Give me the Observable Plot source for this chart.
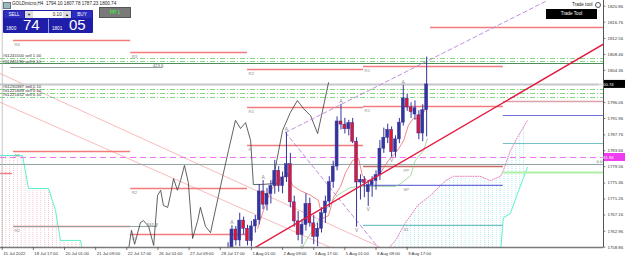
<!DOCTYPE html>
<html><head><meta charset="utf-8">
<script src="https://cdn.jsdelivr.net/npm/d3@7"></script>
<script src="https://cdn.jsdelivr.net/npm/@observablehq/plot@0.6"></script>
<style>
body{margin:0;background:#fff;}
#wrap{position:relative;width:625px;height:259px;overflow:hidden;font-family:"Liberation Sans",Arial,sans-serif;}
#wrap svg{position:absolute;left:0;top:0;}
.ui{position:absolute;white-space:nowrap;}
</style></head><body><div id="wrap"></div>
<script>
// ---------- DATA ----------
const candleI = [58,59,60,61,62,63,64,65,66,67,68,69,70,71,72,73,74,75,76,77,78,79,80,81,82,83,84,85,86,87,88,89,90,91,92,93,94,95,96,97,98,99,100,101,102,103,104,105,106,107,108,109];
const candleOpen = [1754.0,1758.5,1763.4,1760.6,1765.7,1763.6,1760.4,1764.2,1765.8,1773.2,1769.8,1772.6,1774.6,1778.5,1774.6,1776.8,1780.2,1770.4,1765.5,1762.0,1764.6,1770.0,1765.0,1761.5,1763.6,1767.6,1770.6,1775.6,1779.6,1791.2,1790.4,1789.2,1790.8,1786.0,1775.5,1776.2,1773.0,1774.8,1775.9,1777.4,1784.2,1787.0,1789.0,1783.3,1786.6,1790.9,1797.1,1794.8,1793.0,1792.8,1788.1,1794.10];
const candleHigh = [1760.0,1764.4,1764.2,1767.6,1766.6,1764.5,1765.5,1767.0,1775.0,1776.0,1774.0,1776.0,1781.2,1779.6,1778.2,1788.3,1783.0,1772.0,1768.0,1766.0,1772.6,1771.5,1767.0,1765.0,1769.0,1772.0,1777.0,1781.0,1792.4,1795.6,1792.0,1791.5,1792.0,1787.0,1777.5,1777.0,1776.0,1777.0,1778.5,1786.3,1789.5,1790.5,1789.8,1787.5,1792.0,1800.5,1798.2,1796.0,1796.5,1794.0,1795.5,1807.78];
const candleLow = [1752.0,1757.5,1759.2,1759.0,1762.0,1759.2,1758.9,1762.5,1764.6,1768.5,1768.2,1770.0,1772.5,1773.0,1772.6,1775.5,1769.0,1764.0,1760.5,1759.5,1763.0,1764.0,1759.5,1759.0,1762.5,1765.0,1769.0,1774.0,1778.5,1789.0,1788.0,1787.5,1785.5,1764.0,1771.0,1771.6,1769.3,1771.7,1773.5,1776.0,1783.0,1785.5,1782.0,1782.0,1785.5,1790.0,1793.8,1792.0,1791.5,1786.5,1786.0,1787.23];
const candleClose = [1758.5,1763.4,1760.6,1765.7,1763.6,1760.4,1764.2,1765.8,1773.2,1769.8,1772.6,1774.6,1778.5,1774.6,1776.8,1780.2,1770.4,1765.5,1762.0,1764.6,1770.0,1765.0,1761.5,1763.6,1767.6,1770.6,1775.6,1779.6,1791.2,1790.4,1789.2,1790.8,1786.0,1775.5,1776.2,1775.4,1774.8,1775.9,1777.4,1784.2,1787.0,1789.0,1783.3,1786.6,1790.9,1797.1,1794.8,1793.6,1794.6,1788.1,1794.1,1800.74];

// overlay line (black)
const overlayI = [32.4,33.2,34.0,35.5,36.3,37.6,38.9,39.9,40.7,41.4,42.5,43.2,44.0,45.0,45.8,46.8,47.8,48.9,50.2,50.9,52.2,53.5,56.1,58.1,59.9,61.2,62.5,63.8,64.5,66.8,69.4,71.0,72.0,74.0,75.8,77.4,79.2,81.0,82.0,83.8];
const overlayP = [1758.0,1763.2,1759.6,1765.2,1765.7,1764.2,1759.3,1772.2,1773.5,1769.6,1769.1,1772.2,1776.5,1773.5,1776.0,1779.9,1775.5,1761.1,1765.7,1769.1,1764.2,1762.6,1774.7,1783.7,1791.5,1789.4,1790.9,1786.3,1775.0,1775.0,1775.2,1783.7,1788.9,1793.5,1796.6,1794.5,1792.7,1788.1,1792.7,1801.2];

// Tenkan (red thin) and Kijun (green thin)
const tenkanI = [65.6,67.1,68.9,71.5,73.3,74.6,76.6,79.2,81.2,82.3,83.8,85.1,86.9,88.2,90.0,91.5,92.5,93.8,95.1,97.2,99.2,101.5,103.1,104.3,105.6,106.9,108.2,109.2];
const tenkanP = [1763.7,1768.3,1773.4,1776.5,1777.8,1774.7,1773.4,1772.2,1770.9,1766.2,1767.0,1771.7,1774.5,1778.1,1781.2,1781.7,1777.3,1776.0,1776.5,1778.1,1781.2,1783.7,1786.3,1790.2,1792.0,1792.0,1793.5,1795.3];
const kijunI = [76.6,78.4,79.7,81.7,84.3,86.1,88.2,89.4,92.0,101.0,102.3,104.9,106.1,108.2,109.2];
const kijunP = [1758.0,1761.1,1763.2,1766.5,1770.1,1772.2,1773.5,1774.2,1774.5,1774.5,1775.2,1777.3,1781.2,1783.7,1786.8];

// Ichimoku clouds
const cloudLeftI = [-0.44,5.21,6.75,11.89,13.69,14.97,20.1,20.6];
const cloudLeftTop = [1782.45,1782.45,1773.97,1773.97,1768.3,1760.6,1760.6,1758.0];
const cloudLeftBottom = [1750,1750,1750,1750,1750,1750,1750,1750];
const cloudRightI = [98.4,101.0,103.6,106.7,110.0,113.9,115.9,122.8,125.4,127.97,128.7,130.5,132.6,134.9];
const cloudRightA = [1757.7,1760.6,1765.2,1769.6,1772.2,1776.0,1777.1,1777.1,1776.0,1777.1,1778.6,1783.7,1787.6,1791.5];
const cloudRightB = [1750,1750,1750,1750,1750,1750,1750,1750,1750,1757.7,1766.4,1767.5,1773.4,1779.4];

// trend / channel lines [index, price] anchors
const trendRed = [[64.5,1758.5],[154.4,1811.1]];
const channelUp = [[72.75,1788.37],[140.0,1822.33]];
const channelDown = [[72.75,1788.37],[99.7,1754.9]];
const salmonA = [[-0.44,1796.1],[86.1,1758.0]];
const salmonB = [[-0.44,1803.5],[98.9,1758.0]];

// pivot style levels: [from, to, price, label]
const pivotRed = [
  [2.9,33.0,1812.04,"R4"],[2.9,33.0,1783.48,"R1"],[2.9,33.0,1764.19,"R2"],[-0.44,2.6,1777.83,""],
  [33.0,63.0,1808.95,"R3"],[33.0,63.0,1773.97,"R2"],[33.0,63.0,1762.13,"R1"],
  [63.0,92.8,1804.58,"R2"],[63.0,92.8,1794.79,"R1"],[63.0,92.8,1785.02,"R"],
  [92.8,128.7,1805.35,"R1"],[92.8,128.7,1795.05,"R1"],[110.0,154.4,1815.38,""]
];
const pivotPP = [[92.8,128.7,1779.62,"PP"]];
const pivotBlue = [[92.8,128.7,1774.74,"SP"],[128.7,154.4,1792.74,""]];
const pivotTeal = [[92.8,128.7,1764.45,"S1"],[128.7,154.4,1785.54,""]];
const levelGreen = [[128.7,154.4,1778.08]];
const levelRose = [[128.7,154.4,1796.34]];
const fibLevels = [[2.1,41.4,1805.09,"423.6"],[2.9,39.9,1764.19,"261.8"]];

// full-width levels
const ordersTop = [1807.41,1806.64];
const ordersTopLabels = ["#61241500 sell 1.00","#61241190 sell 0.10"];
const ordersLow = [1799.43,1798.40,1797.37];
const ordersLowLabels = ["#61230387 sell 0.10","#61221869 sell 0.10","#61221452 sell 0.10"];
const tpLevel = 1806.12;
const bidPrice = 1800.74;
const alertPrice = 1781.94;
const fibZero = 1780.14;

// fractals
const fractUpI = [59,67,73,87,103];
const fractUpP = [1764.4,1776.0,1788.3,1795.6,1800.5];
const fractDnI = [77,91,94,100];
const fractDnP = [1759.5,1764.0,1769.3,1782.0];

// axes
const yTicks = [1820.86,1816.76,1812.56,1808.46,1804.36,1796.06,1791.96,1787.76,1783.66,1779.56,1775.36,1771.26,1767.16,1762.96,1758.86];
const xTickI = [0,8,16,24,32,40,48,56,64,72,80,88,96,104];
const xTickLabels = ["15 Jul 2022","18 Jul 17:00","20 Jul 01:00","21 Jul 09:00","22 Jul 17:00","26 Jul 01:00","27 Jul 09:00","28 Jul 17:00","1 Aug 01:00","2 Aug 09:00","3 Aug 17:00","5 Aug 01:00","8 Aug 09:00","9 Aug 17:00"];

// ---------- BUILD ----------
const candles = candleI.map((i,k)=>({i,o:candleOpen[k],h:candleHigh[k],l:candleLow[k],c:candleClose[k]}));
const pts = (I,P)=>I.map((i,k)=>({i,p:P[k]}));
const seg = a => a.map(d=>({i:d[0],p:d[1]}));
const lv = a => a.map(d=>({a:d[0],b:d[1],p:d[2],t:d[3]||""}));
const cloudL = cloudLeftI.map((i,k)=>({i,t:cloudLeftTop[k],b:cloudLeftBottom[k]}));
const cloudR = cloudRightI.map((i,k)=>({i,a:cloudRightA[k],b:cloudRightB[k]}));
const X0 = -0.44, X1 = 154.42, YB = 1758.78;
const BLUE = "#34349c", RED = "#e8142e";
const fs = 4.3;

const chart = Plot.plot({
  width:625, height:259, marginLeft:0, marginRight:22, marginTop:0, marginBottom:12,
  style:{background:"transparent", fontFamily:"'Liberation Sans', Arial, sans-serif", overflow:"visible"},
  x:{domain:[X0,X1], axis:null},
  y:{domain:[YB,1822.33], axis:null},
  marks:[
    Plot.areaY(cloudL,{x:"i",y1:"b",y2:"t",fill:"url(#hatchPink)",clip:true}),
    Plot.areaY(cloudR,{x:"i",y1:"b",y2:"a",fill:"url(#hatchCyan)",clip:true}),
    Plot.line(cloudL,{x:"i",y:"t",stroke:"#5cf0cc",strokeWidth:1,clip:true}),
    Plot.line(cloudR,{x:"i",y:"a",stroke:"#f07ac0",strokeWidth:1,strokeDasharray:"1,1.5",clip:true}),
    Plot.line(cloudR.filter(d=>d.i>=127),{x:"i",y:"b",stroke:"#5cf0cc",strokeWidth:1,clip:true}),
    Plot.line(seg(salmonA),{x:"i",y:"p",stroke:"#f7a8a8",strokeWidth:0.8,clip:true}),
    Plot.line(seg(salmonB),{x:"i",y:"p",stroke:"#f7a8a8",strokeWidth:0.8,clip:true}),
    // full width levels
    Plot.ruleY(ordersTop,{stroke:"#84d884",strokeWidth:1,strokeDasharray:"5,2,1,2"}),
    Plot.ruleY([tpLevel],{stroke:"#4d8f5a",strokeWidth:1}),
    Plot.ruleY([bidPrice],{stroke:"#c4c8cc",strokeWidth:2}),
    Plot.ruleY(ordersLow,{stroke:"#84d884",strokeWidth:1,strokeDasharray:"5,2,1,2"}),
    Plot.ruleY([alertPrice],{stroke:"#ee70ee",strokeWidth:1,strokeDasharray:"6,4"}),
    Plot.ruleY([fibZero],{stroke:"#8fa3a3",strokeWidth:1}),
    // period levels
    Plot.ruleY(lv(pivotRed),{x1:"a",x2:"b",y:"p",stroke:"#f27c7c",strokeWidth:1.4}),
    Plot.ruleY(lv(pivotPP),{x1:"a",x2:"b",y:"p",stroke:"#c96a64",strokeWidth:1.4}),
    Plot.ruleY(lv(pivotBlue),{x1:"a",x2:"b",y:"p",stroke:"#7070dc",strokeWidth:1.2}),
    Plot.ruleY(lv(pivotTeal),{x1:"a",x2:"b",y:"p",stroke:"#74c2c4",strokeWidth:1.2}),
    Plot.ruleY(levelGreen.map(d=>({a:d[0],b:d[1],p:d[2]})),{x1:"a",x2:"b",y:"p",stroke:"#aef0a4",strokeWidth:2}),
    Plot.ruleY(levelRose.map(d=>({a:d[0],b:d[1],p:d[2]})),{x1:"a",x2:"b",y:"p",stroke:"#d9a3a8",strokeWidth:1.4}),
    Plot.ruleY(lv(fibLevels),{x1:"a",x2:"b",y:"p",stroke:"#8fa3a3",strokeWidth:1}),
    // overlay black line
    Plot.line(pts(overlayI,overlayP),{x:"i",y:"p",stroke:"#3a3a3a",strokeWidth:0.8,clip:true}),
    // channel
    Plot.line(seg(channelUp),{x:"i",y:"p",stroke:"#b983d8",strokeWidth:0.9,strokeDasharray:"4,3",clip:true}),
    Plot.line(seg(channelDown),{x:"i",y:"p",stroke:"#b983d8",strokeWidth:0.9,strokeDasharray:"4,3",clip:true}),
    // ichimoku lines
    Plot.line(pts(kijunI,kijunP),{x:"i",y:"p",stroke:"#8fd08f",strokeWidth:0.8,clip:true}),
    Plot.line(pts(tenkanI,tenkanP),{x:"i",y:"p",stroke:"#f06a6a",strokeWidth:0.8,clip:true}),
    // candles
    Plot.ruleX(candles,{x:"i",y1:"l",y2:"h",stroke:BLUE,strokeWidth:1,clip:true}),
    Plot.rect(candles,{x1:d=>d.i-0.38,x2:d=>d.i+0.38,y1:"o",y2:"c",fill:d=>d.c>=d.o?BLUE:RED,stroke:BLUE,strokeWidth:0.5,clip:true}),
    // trend line
    Plot.line(seg(trendRed),{x:"i",y:"p",stroke:"#e5183f",strokeWidth:1.4,clip:true}),
    // fractals
    Plot.text(pts(fractUpI,fractUpP),{x:"i",y:"p",text:()=>"A",dy:-3,fontSize:5,fill:"#888"}),
    Plot.text(pts(fractDnI,fractDnP),{x:"i",y:"p",text:()=>"V",dy:3,fontSize:5,fill:"#888"}),
    // level labels
    Plot.text(lv(pivotRed).filter(d=>d.t),{x:"a",y:"p",text:"t",dx:1,dy:4,textAnchor:"start",fontSize:fs,fill:"#8c8c8c"}),
    Plot.text(lv(pivotPP).concat(lv(pivotBlue),lv(pivotTeal)).filter(d=>d.t),{x:d=>d.a+10,y:"p",text:"t",dx:1,dy:4,textAnchor:"start",fontSize:fs,fill:"#8c8c8c"}),
    Plot.text(lv(fibLevels),{x:"b",y:"p",text:"t",dy:-2,textAnchor:"end",fontSize:fs,fill:"#607070"}),
    Plot.text([fibZero],{x:X1,y:d=>d,text:()=>"0.0",dx:-1,dy:-3,textAnchor:"end",fontSize:fs,fill:"#607070"}),
    Plot.text(ordersTop,{x:X0,y:d=>d,text:(d,k)=>ordersTopLabels[k],dx:2,dy:(d,k)=>0,dy:-3,textAnchor:"start",fontSize:fs,fill:"#333",filter:(d,k)=>k===0}),
    Plot.text(ordersTop,{x:X0,y:d=>d,text:(d,k)=>ordersTopLabels[k],dx:2,dy:-0.3,textAnchor:"start",fontSize:fs,fill:"#333",filter:(d,k)=>k===1}),
    Plot.text(ordersLow,{x:X0,y:d=>d,text:(d,k)=>ordersLowLabels[k],dx:2,dy:-2.5,textAnchor:"start",fontSize:fs,fill:"#333"}),
    // frame / axes
    Plot.ruleX([X0+0.45],{stroke:"#b8b8b8",strokeWidth:0.8}),
    Plot.ruleY([YB],{stroke:"#7a7a7a",strokeWidth:1.5}),
    Plot.ruleX([X1],{stroke:"#555",strokeWidth:1}),
    Plot.ruleY(yTicks,{x1:X1,x2:X1+0.6,stroke:"#555",strokeWidth:0.8}),
    Plot.text(yTicks,{x:X1,y:d=>d,text:d=>d.toFixed(2),dx:4,textAnchor:"start",fontSize:fs,fill:"#333"}),
    Plot.ruleX(xTickI,{x:d=>d,y1:YB,y2:YB-0.8,stroke:"#555",strokeWidth:0.8}),
    Plot.text(xTickI,{x:d=>d,y:YB,text:(d,k)=>xTickLabels[k],dx:1,dy:6,textAnchor:"start",fontSize:fs,fill:"#333"})
  ]
});

// patterns for ichimoku hatching
const svg = d3.select(chart);
const defs = svg.insert("defs",":first-child");
const xs = chart.scale("x"), ysc = chart.scale("y");
const step = xs.apply(1)-xs.apply(0);
function hatch(id,color){
  const p = defs.append("pattern").attr("id",id).attr("patternUnits","userSpaceOnUse")
    .attr("width",step).attr("height",2).attr("x",xs.apply(0)-0.4);
  p.append("rect").attr("width",0.8).attr("height",1).attr("fill",color);
}
hatch("hatchPink","#f6b8c6");
hatch("hatchCyan","#a3e4ee");

// price boxes on the right axis
function box(price,bg,label){
  const y = ysc.apply(price);
  svg.append("rect").attr("x",604).attr("y",y-4).attr("width",21).attr("height",8).attr("fill",bg);
  svg.append("text").attr("x",606).attr("y",y+1.6).attr("font-size",fs).attr("fill","#fff").text(label);
}
box(bidPrice,"#000",bidPrice.toFixed(2));
box(alertPrice,"#f03cf0",alertPrice.toFixed(2));

const wrap = document.getElementById("wrap");
wrap.appendChild(chart);

// UI overlays (terminal widgets)
wrap.insertAdjacentHTML("beforeend",`
<div class="ui" style="left:3px;top:2px;width:6px;height:5px;background:#9bb;border:1px solid #678"></div>
<div class="ui" style="left:12px;top:1px;font-size:4.6px;color:#222">GOLDmicro,H4&nbsp; 1794.10 1807.78 1787.23 1800.74</div>
<div class="ui" style="left:3px;top:10px;width:90px;height:23px;background:#1e1ea8;border-radius:1px"></div>
<div class="ui" style="left:4px;top:11px;width:20px;height:7px;background:#2d2dbf;color:#fff;font-size:4.6px;text-align:center;line-height:7px">SELL</div>
<div class="ui" style="left:25px;top:11px;width:8px;height:7px;background:#ddd;color:#222;font-size:4px;text-align:center;line-height:7px">&#9660;</div>
<div class="ui" style="left:33px;top:11px;width:30px;height:7px;background:#fff;color:#222;font-size:4.6px;text-align:right;line-height:7px">0.10&nbsp;</div>
<div class="ui" style="left:63px;top:11px;width:8px;height:7px;background:#ddd;color:#222;font-size:4px;text-align:center;line-height:7px">&#9650;</div>
<div class="ui" style="left:72px;top:11px;width:20px;height:7px;background:#2d2dbf;color:#fff;font-size:4.6px;text-align:center;line-height:7px">BUY</div>
<div class="ui" style="left:48px;top:19px;width:1px;height:14px;background:#9a9ae0"></div>
<div class="ui" style="left:6px;top:26px;color:#fff;font-size:4.6px">1800</div>
<div class="ui" style="left:23px;top:17px;color:#fff;font-size:15px;line-height:15px">74</div>
<div class="ui" style="left:52px;top:26px;color:#fff;font-size:4.6px">1801</div>
<div class="ui" style="left:69px;top:17px;color:#fff;font-size:15px;line-height:15px">05</div>
<div class="ui" style="left:99px;top:7px;width:30px;height:9px;background:#7a7a7a;border:1px solid #555;color:#3f3;font-size:5px;text-align:center;line-height:9px">PP 1</div>
<div class="ui" style="left:572px;top:2px;color:#222;font-size:4.6px">Trade tool</div>
<div class="ui" style="left:595px;top:2px;width:4px;height:4px;border:1px solid #555;border-radius:50%"></div>
<div class="ui" style="left:546px;top:9px;width:51px;height:10px;background:#000;color:#fff;font-size:4.6px;text-align:center;line-height:10px">Trade Tool</div>
`);
</script></body></html>
